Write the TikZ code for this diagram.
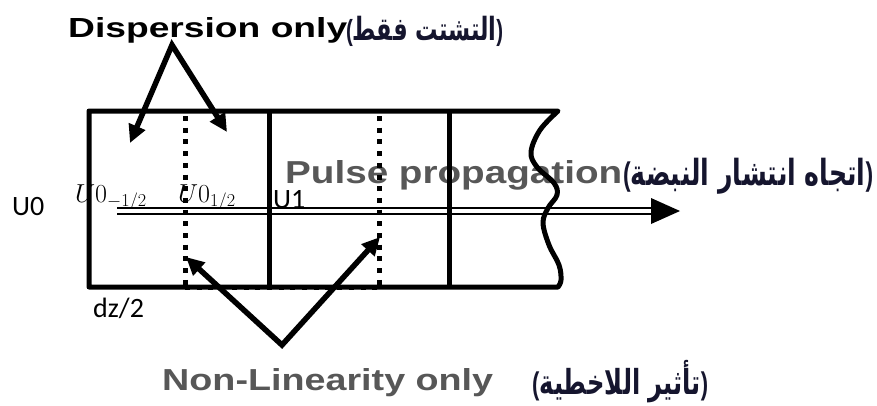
\documentclass[tikz,border=0pt]{standalone}
\usepackage{fix-cm}
\usepackage{fontspec}
\setmainfont{Liberation Sans}
\newfontfamily\labelfont{Carlito}
\newfontfamily\arabicfont[Script=Arabic, FakeStretch=0.7, Scale=1.1]{DejaVu Sans}
\newfontfamily\parenfont[FakeStretch=0.7]{Liberation Sans}
\usetikzlibrary{arrows.meta}
\TeXXeTstate=1
\definecolor{textgray}{HTML}{575757}
\definecolor{arabink}{HTML}{15152E}
% Arabic caption in parentheses (parentheses in a Latin font), fitted to a width
\newcommand\arcaption[2]{\resizebox{#1}{!}{{\parenfont\bfseries(}{\arabicfont\bfseries #2}{\parenfont\bfseries)}}}

\begin{document}
\begin{tikzpicture}[x=1pt,y=-1pt,
  frame/.style={line width=5pt},
  dotline/.style={line width=5pt, dash pattern=on 5pt off 6.7pt},
  pointer/.style={line width=5.5pt, line join=miter,
    {Triangle[length=18pt,width=17pt]}-{Triangle[length=18pt,width=17pt]}},
  heading/.style={inner sep=0pt, anchor=base west, font=\bfseries},
  arab/.style={inner sep=0pt, anchor=base west, text=arabink, font=\fontsize{20}{24}\selectfont},
  calib/.style={inner sep=0pt, anchor=base west, font=\labelfont\fontsize{28}{32}\selectfont},
  mathlbl/.style={inner sep=0pt, anchor=base west, font=\fontsize{26}{30}\selectfont},
]
\useasboundingbox (0,0) rectangle (877,405);

% ---- captions ----
\node[heading] (disp) at (68,37) {\resizebox{279pt}{20pt}{Dispersion only}};
\node[arab] (dispar) at (346,40) {\arcaption{157pt}{\beginR التشتت فقط\endR}};
\node[heading, text=textgray] (pulse) at (285,183) {\resizebox{337pt}{23pt}{Pulse propagation}};
\node[arab] (pulsear) at (623,185) {\arcaption{250pt}{\beginR اتجاه انتشار النبضة\endR}};
\node[heading, text=textgray] (nonlin) at (162,390) {\resizebox{331pt}{22pt}{Non-Linearity only}};
\node[arab] (nonlinar) at (532,394) {\arcaption{176pt}{\beginR تأثير اللاخطية\endR}};

% ---- field labels ----
\node[calib] (u0) at (12,215) {U0};
\node[calib] (u1) at (273,208) {U1};
\node[calib] (dz) at (93,317) {dz/2};
\node[mathlbl] (uhalfm) at (75,202) {$U0_{-1/2}$};
\node[mathlbl] (uhalfp) at (178,202) {$U0_{1/2}$};

% ---- propagation axis (double line with filled head) ----
\coordinate (axstart) at (117,211);
\coordinate (axtip) at (680,211);
\draw[line width=1.3pt, double distance=4.7pt] (axstart) -- ([xshift=-29pt]axtip);
\fill (axtip) -- ++(-29,-13) -- ++(0,26) -- cycle;

% ---- fibre sections ----
\draw[frame, line join=round] (89,287) -- (89,111) -- (558,111)
  -- plot[smooth, tension=0.6] coordinates {(558,111) (540,130) (531,152) (537,167)
     (554,183) (557,195) (548,208) (543,223) (549,245) (559,265) (561,280) (558,287)}
  -- cycle;
\draw[frame] (269,111) -- (269,287);
\draw[frame] (449,111) -- (449,287);
\draw[dotline] (185,116) -- (185,287);
\draw[dotline] (379,116) -- (379,287);
\draw[dotline, line width=3pt] (185,110) -- (379,110);
\draw[dotline, line width=3pt] (185,288) -- (379,288);

% ---- pointers ----
\coordinate (dispapex) at (172,45);
\coordinate (disptipl) at (130,143);
\coordinate (disptipr) at (227,132);
\draw[pointer] (disptipl) -- (dispapex) -- (disptipr);
\coordinate (nlapex) at (282,345);
\coordinate (nltipl) at (186,257);
\coordinate (nltipr) at (380,237);
\draw[pointer] (nltipl) -- (nlapex) -- (nltipr);
\end{tikzpicture}
\end{document}
